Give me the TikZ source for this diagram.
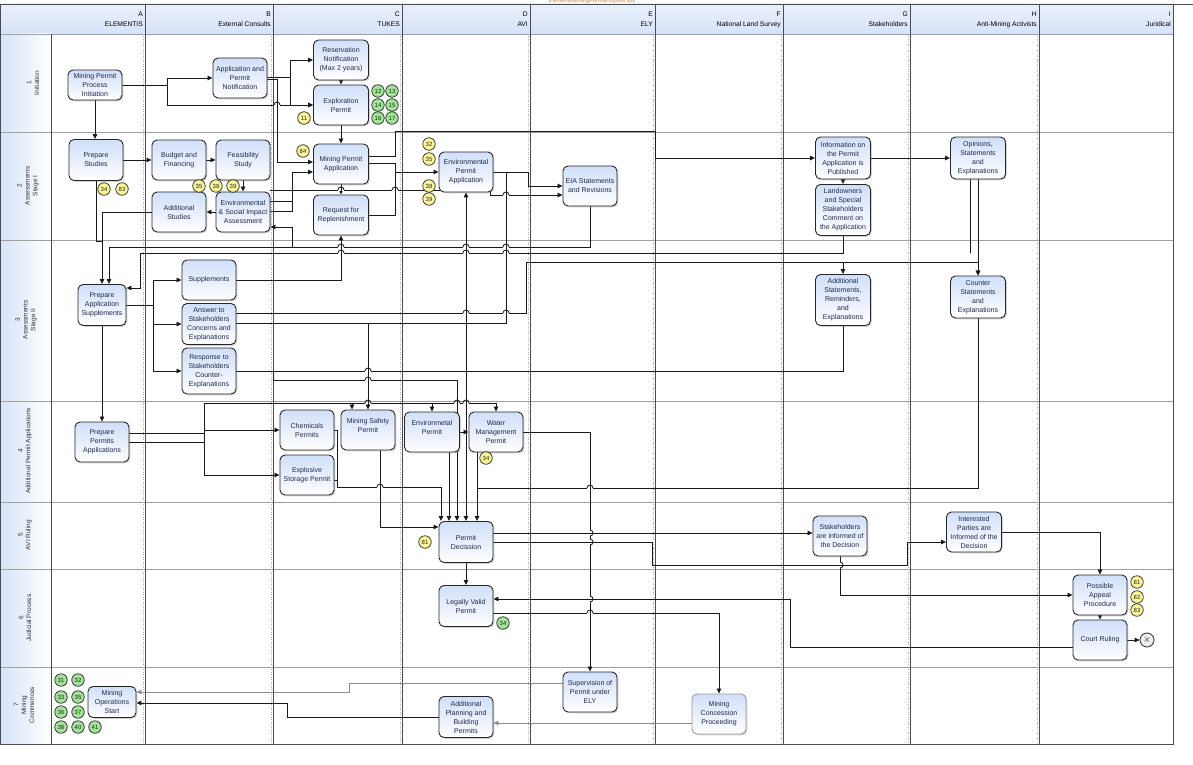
\documentclass[tikz,border=0pt]{standalone}
\usepackage{fontspec}
\setmainfont{Liberation Sans}
\usetikzlibrary{arrows.meta,shadows}

\definecolor{procblue}{RGB}{208,223,249}
\definecolor{proctext}{RGB}{32,42,80}
\definecolor{hdrblue}{RGB}{214,227,248}
\definecolor{markyellow}{RGB}{250,246,150}
\definecolor{markgreen}{RGB}{160,228,150}
\definecolor{titleorange}{RGB}{215,120,40}

\pgfdeclarelayer{grille}
\pgfdeclarelayer{liens}
\pgfsetlayers{grille,liens,main}

% sauts de ligne aux croisements
\newcommand{\hoph}[2]{%
  \fill[white] (#1-3.4,#2-0.9) rectangle (#1+3.4,#2+0.9);
  \draw[wire] (#1,#2-1.3) -- (#1,#2+1.3);
  \draw[wire] (#1-3,#2) arc[start angle=180, end angle=360, radius=3];}
\newcommand{\hopv}[2]{%
  \fill[white] (#1-0.9,#2-3.4) rectangle (#1+0.9,#2+3.4);
  \draw[wire] (#1-1.3,#2) -- (#1+1.3,#2);
  \draw[wire] (#1,#2-3) arc[start angle=-90, end angle=90, radius=3];}

\tikzset{
  proc/.style={draw=black!85, line width=0.9pt, rounded corners=5pt,
    top color=procblue, bottom color=white, text=proctext, align=center,
    font=\fontsize{7}{9}\selectfont, inner sep=1pt,
    minimum width=54pt, minimum height=40pt,
    drop shadow={shadow xshift=1.3pt, shadow yshift=-1.3pt, opacity=0.35}},
  mk/.style={circle, draw=black!85, line width=0.7pt, minimum size=12.5pt,
    inner sep=0pt, font=\fontsize{6}{6}\selectfont, text=black!85},
  mky/.style={mk, fill=markyellow},
  mkg/.style={mk, fill=markgreen},
  endev/.style={circle, draw=black!85, line width=0.8pt, fill=gray!15,
    minimum size=14pt, inner sep=0pt},
  wire/.style={draw=black!90, line width=0.85pt},
  arr/.style={wire, -{Triangle[length=5pt,width=4.5pt]}},
  hdr/.style={font=\fontsize{6.7}{7}\selectfont, inner sep=0pt, anchor=east},
  rowlab/.style={rotate=90, align=center, font=\fontsize{6.5}{7.8}\selectfont, text=black!80},
  colline/.style={draw=black!70, line width=0.8pt},
  coldots/.style={draw=gray!60, line width=0.5pt, dotted},
  rowline/.style={draw=gray!75, line width=0.8pt}
}

\begin{document}
\begin{tikzpicture}[x=1pt,y=-1pt]
\useasboundingbox (0,0) rectangle (1193,765);

% Couloirs
\begin{pgfonlayer}{grille}
  \shade[top color=hdrblue!55, bottom color=hdrblue] (0,4) rectangle (1173,34);
  \shade[left color=hdrblue, right color=white] (0,34) rectangle (51,744);
  \foreach \ry in {34,132,240,401,502,569,667}
    \draw[rowline] (0,\ry) -- (1173,\ry);
  \foreach \cx in {145,273,402,530,655,783,910,1039} {
    \draw[coldots] (\cx-1.8,34) -- (\cx-1.8,744);
    \draw[colline] (\cx,4) -- (\cx,744);
  }
  \draw[colline] (51,34) -- (51,744);
  \draw[colline] (0.5,4) rectangle (1173,744);
  \draw[colline] (0,4) -- (1193,4);
\end{pgfonlayer}

\node[font=\fontsize{5.5}{5.5}\selectfont, text=titleorange, inner sep=0pt] (titre) at (592,1.2) {ElementisMiningPermitProcess.vpx};

% En-tetes des colonnes et des rangees
\foreach \cx/\lt/\nm in {145/A/ELEMENTIS, 273/B/External Consults, 402/C/TUKES,
    530/D/AVI, 655/E/ELY, 783/F/National Land Survey, 910/G/Stakeholders,
    1039/H/Anti-Mining Activists, 1173/I/Juridical} {
  \node[hdr] (h\lt) at (\cx-2,14) {\lt};
  \node[hdr] (n\lt) at (\cx-2,24.5) {\nm};
}
\foreach \rx/\ry/\rn/\txt in {33/83/1/Initiation, 28/186/2/{Assessments\\Stage I},
    26/320/3/{Assessments\\Stage II}, 25/451/4/{Additional Permit Applications},
    25/535/5/{AVI Ruling}, 25/618/6/{Judicial Process}, 24/705/7/{Mining\\Commences}}
  \node[rowlab] (r\rn) at (\rx,\ry) {\rn\\\txt};

% Rangee 1
\node[proc, minimum height=30pt] (init) at (95,85) {Mining Permit\\Process\\Initiation};
\node[proc] (notif) at (240,78) {Application and\\Permit\\Notification};
\node[proc, minimum width=55pt] (reserv) at (341,60) {Reservation\\Notification\\(Max 2 years)};
\node[proc, minimum width=55pt] (explor) at (341,105) {Exploration\\Permit};

% Rangee 2
\node[proc, minimum height=41pt] (studies) at (96,160) {Prepare\\Studies};
\node[proc] (budget) at (179,160) {Budget and\\Financing};
\node[proc] (feasib) at (243,160) {Feasibility\\Study};
\node[proc] (addstud) at (179,212) {Additional\\Studies};
\node[proc] (esia) at (243,212) {Environmental\\\& Social Impact\\Assessment};
\node[proc, minimum width=55pt] (mpapp) at (341,164) {Mining Permit\\Application};
\node[proc, minimum width=55pt] (replen) at (341,215) {Request for\\Replenishment};
\node[proc] (envapp) at (466,172) {Environmental\\Permit\\Application};
\node[proc] (eia) at (590,186) {EIA Statements\\and Revisions};
\node[proc, minimum width=55pt, minimum height=42pt] (info) at (843,158) {Information on\\the Permit\\Application is\\Published};
\node[proc, minimum width=55pt, minimum height=51pt] (landown) at (843,210) {Landowners\\and Special\\Stakeholders\\Comment on\\the Application};
\node[proc, minimum width=55pt, minimum height=42pt] (opinion) at (978,158) {Opinions,\\Statements\\and\\Explanations};

% Rangee 3
\node[proc, minimum width=48pt, minimum height=41pt] (prepsup) at (102,305) {Prepare\\Application\\Supplements};
\node[proc] (suppl) at (209,280) {Supplements};
\node[proc, minimum height=41pt] (answer) at (209,324) {Answer to\\Stakeholders\\Concerns and\\Explanations};
\node[proc, minimum height=46pt] (respon) at (209,371) {Response to\\Stakeholders\\Counter-\\Explanations};
\node[proc, minimum width=55pt, minimum height=51pt] (addstat) at (843,300) {Additional\\Statements,\\Reminders,\\and\\Explanations};
\node[proc, minimum width=55pt, minimum height=42pt] (counter) at (978,297) {Counter\\Statements\\and\\Explanations};

% Rangee 4
\node[proc] (prepperm) at (102,442) {Prepare\\Permits\\Applications};
\node[proc] (chem) at (307,430) {Chemicals\\Permits};
\node[proc] (explos) at (307,475) {Explosive\\Storage Permit};
\node[proc] (safety) at (368,430) {Mining Safety\\Permit\\\mbox{}};
\node[proc, minimum width=55pt] (envperm) at (432,432) {Environmetal\\Permit\\\mbox{}};
\node[proc] (water) at (496,432) {Water\\Management\\Permit};

% Rangees 5 a 7
\node[proc, minimum height=41pt] (decis) at (466,542) {Permit\\Decission};
\node[proc] (stkinf) at (840,536) {Stakeholders\\are informed of\\the Decision};
\node[proc, minimum width=55pt] (partinf) at (974,532) {Interested\\Parties are\\Informed of the\\Decision};
\node[proc, minimum height=41pt] (valid) at (466,606) {Legally Valid\\Permit};
\node[proc] (appeal) at (1100,595) {Possible\\Appeal\\Procedure};
\node[proc] (court) at (1100,640) {Court Ruling};
\node[endev] (fin) at (1147,640) {$\times$};
\node[proc, minimum width=48pt, minimum height=31pt] (minops) at (112,702) {Mining\\Operations\\Start};
\node[proc] (superv) at (590,692) {Supervision of\\Permit under\\ELY};
\node[proc, minimum height=41pt] (planning) at (466,717) {Additional\\Planning and\\Building\\Permits};
\node[proc, draw=gray!80] (concess) at (719,714) {Mining\\Concession\\Proceeding};

% Pastilles numerotees
\foreach \n/\px/\py in {12/378/91, 13/392/91, 14/378/105, 15/392/105, 16/378/118, 17/392/118}
  \node[mkg] (g\n) at (\px,\py) {\n};
\node[mky] (y11) at (304,118) {11};
\node[mky] (y84) at (303,151) {84};
\foreach \n/\px in {34/104, 83/122}
  \node[mky] (yPS\n) at (\px,189) {\n};
\foreach \n/\px in {35/199, 38/216, 39/233}
  \node[mky] (yFS\n) at (\px,186) {\n};
\foreach \n/\py in {32/144, 35/159, 38/186, 39/199}
  \node[mky] (yEA\n) at (429,\py) {\n};
\node[mky] (yWM34) at (486,458) {34};
\node[mky] (yPD81) at (425,542) {81};
\node[mkg] (g34) at (503,623) {34};
\foreach \n/\py in {81/582, 82/597, 83/610}
  \node[mky] (yAP\n) at (1137,\py) {\n};
\foreach \n/\px/\py in {31/61/680, 32/78/680, 33/61/697, 35/78/697, 36/61/712,
    37/78/712, 38/61/727, 40/78/727, 41/95/727}
  \node[mkg] (g\n) at (\px,\py) {\n};

\begin{pgfonlayer}{liens}
% Liens rangee 1
\draw[arr] (init.east) -- (167,85) |- (notif.west);
\draw[arr] (167,85) |- (explor.west);
\draw[arr] (notif.east |- 0,77) -- (290,77) |- (reserv.west);
\draw[arr] (290,77) |- (explor.west);
\draw[arr] (notif.east |- 0,79) -- (277,79) |- (mpapp.west |- 0,162);
\draw[arr] (reserv) -- (explor);
\draw[arr] (explor) -- (mpapp);

% Liens rangee 2
\draw[arr] (init.south) -- (init.south |- studies.north);
\draw[arr] (studies) -- (budget);
\draw[arr] (budget) -- (feasib);
\draw[arr] (feasib) -- (esia);
\draw[arr] (esia) -- (addstud);
\draw[arr] (esia.east |- 0,211) -- (292,211) |- (mpapp.west |- 0,172);
\draw[wire] (esia.east |- 0,201) -- (292,201);
\draw[arr] (esia.east |- 0,190) -- (490,190) -- (490,195) -- (eia.west |- 0,195);
\draw[arr] (mpapp) -- (replen);
\draw[arr] (mpapp.east |- 0,156) -- (395,156) -- (395,131) -| (655,158) -- (info.west);
\draw[arr] (mpapp.east |- 0,163) -- (395,163) |- (envapp.west);
\draw[wire] (replen.east) -- (395,215) -- (395,172);
\draw[arr] (envapp.east) -- (528,172) |- (eia.west);
\draw[arr] (info) -- (opinion);
\draw[arr] (info) -- (landown);

% Liens rangee 3
\draw[wire] (studies.south) -- (96,241) -- (102,241);
\draw[arr] (addstud.west) -| (prepsup.north -| 102,0);
\draw[arr] (eia.south) |- (109,247) -- (prepsup.north -| 109,0);
\draw[arr] (292,247) |- (esia.east |- 0,227);
\draw[arr] (suppl.east) -| (replen.south);
\draw[arr] (landown.south) |- (140,253) |- (prepsup.east |- 0,288);
\draw[wire] (opinion.south -| 970,0) -- (970,253);
\draw[arr] (opinion) -- (counter);
\draw[arr] (prepsup.east) -- (153,305) |- (suppl.west);
\draw[arr] (153,305) |- (answer.west);
\draw[arr] (153,305) |- (respon.west);
\draw[arr] (answer.east |- 0,313) -- (526,313) -- (526,262) -| (addstat.north);
\draw[arr] (843,262) -| (counter.north);
\draw[wire] (answer.east |- 0,323) -- (506,323) -- (506,172);
\draw[arr] (466,323) -- (envapp.south);
\draw[arr] (368,323) -- (safety.north);
\draw[wire] (466,323) -- (466,371);
\draw[arr] (addstat.south) |- (466,371) -- (decis.north);
\draw[wire] (respon.east) -- (466,371);
\draw[arr] (273,371) -- (273,380) -| (decis.north -| 457,0);
\draw[arr] (prepsup) -- (prepperm);

% Liens rangee 4
\draw[wire] (prepperm.east |- 0,433) -- (204,433);
\draw[wire] (prepperm.east |- 0,442) -- (204,442);
\draw[wire] (204,403) -- (204,475);
\draw[arr] (204,430) -- (chem.west);
\draw[arr] (204,475) -- (explos.west);
\draw[arr] (204,403) -| (water.north);
\draw[arr] (352,403) -- (safety.north -| 352,0);
\draw[arr] (432,403) -- (envperm.north);
\draw[arr] (envperm) -- (water);
\draw[arr] (chem.east) -- (337,430) |- (441,487) -- (decis.north -| 441,0);
\draw[wire] (explos.east |- 0,480) -- (337,480);
\draw[arr] (safety.south -| 380,0) |- (decis.west |- 0,527);
\draw[arr] (envperm.south -| 449,0) -- (decis.north -| 449,0);
\draw[arr] (water.south -| 477,0) -- (decis.north -| 477,0);
\draw[wire] (counter.south) |- (477,488);
\draw[arr] (water.east) -| (superv.north);

% Liens rangees 5 a 7
\draw[arr] (decis.east |- 0,533) -- (stkinf.west |- 0,533);
\draw[arr] (decis.east) -- (652,542) -- (652,565) -- (907,565) -- (907,542) -- (partinf.west |- 0,542);
\draw[arr] (stkinf.south) |- (appeal.west);
\draw[arr] (partinf.east) -| (appeal.north);
\draw[arr] (decis) -- (valid);
\draw[arr] (appeal) -- (court);
\draw[arr] (court) -- (fin);
\draw[arr] (court.west |- 0,647) -- (790,647) |- (valid.east |- 0,599);
\draw[arr] (valid.east |- 0,613) -| (concess.north);
\draw[arr, draw=gray!90] (concess.west |- 0,723) -- (planning.east |- 0,723);
\draw[arr] (planning.west) -- (287,717) -- (287,703) -- (minops.east |- 0,703);
\draw[arr, draw=gray!90] (superv.west |- 0,683) -- (349,683) -- (349,692) -- (minops.east |- 0,692);

% Sauts
\hoph{277}{105}
\hoph{341}{190} \hoph{395}{190} \hoph{506}{195}
\hoph{341}{247} \hoph{466}{247} \hoph{506}{247}
\hoph{341}{253} \hoph{466}{253} \hoph{506}{253}
\hoph{466}{313} \hoph{506}{313}
\hoph{368}{371} \hoph{368}{380}
\hoph{368}{403} \hoph{457}{403} \hoph{466}{403}
\hoph{380}{487} \hoph{590}{488}
\hopv{590}{533} \hopv{590}{542} \hopv{590}{599}
\hoph{590}{613}
\hopv{840}{565}
\end{pgfonlayer}
\end{tikzpicture}
\end{document}
